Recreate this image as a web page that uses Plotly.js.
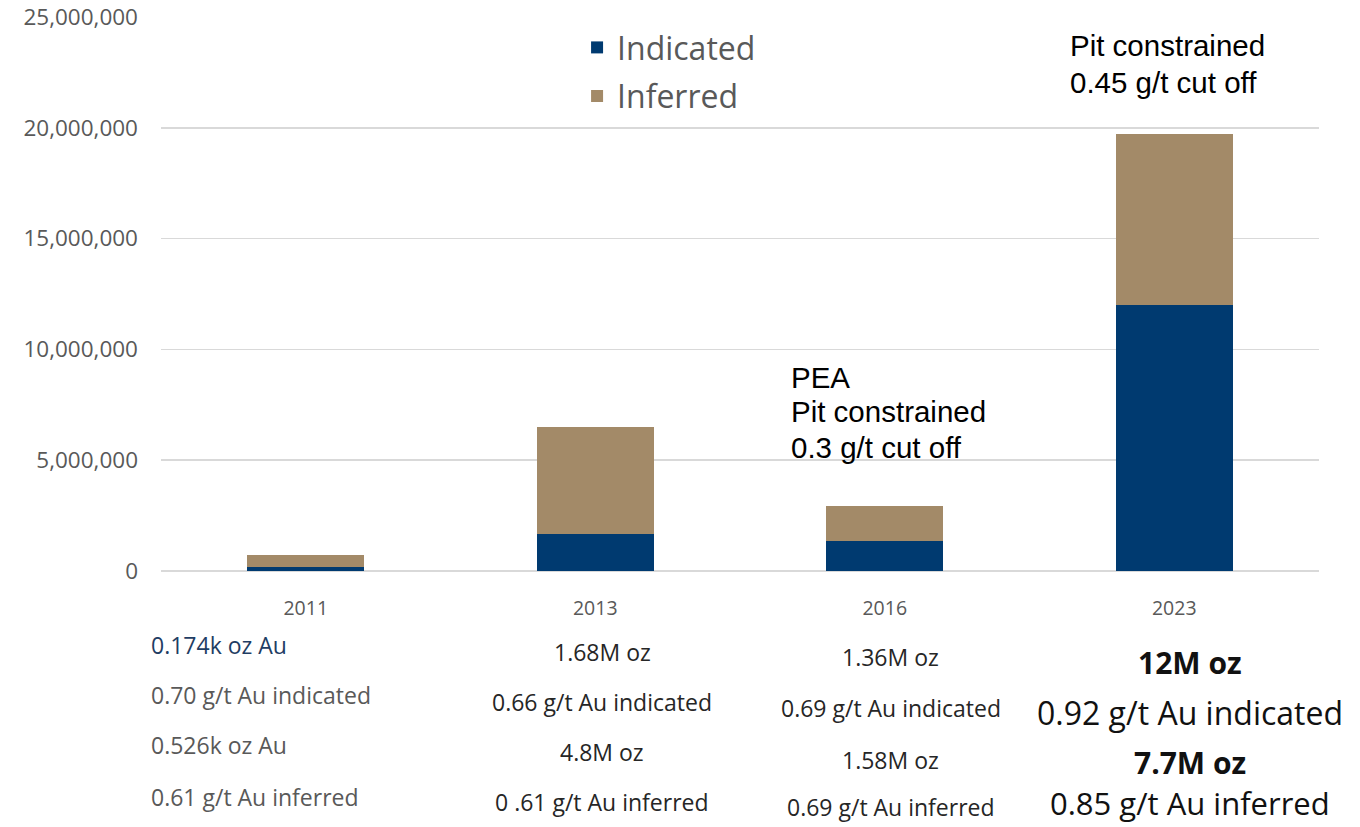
<!DOCTYPE html>
<html>
<head>
<meta charset="utf-8">
<script src="https://cdn.plot.ly/plotly-3.0.1.min.js"></script>
<style>
  html, body { margin: 0; padding: 0; background: #ffffff; }
  #chart { width: 1360px; height: 827px; }
</style>
</head>
<body>
<div id="chart"></div>
<script>
// ---- Data ----
const years = ['2011', '2013', '2016', '2023'];
const indicatedOz = [174000, 1680000, 1360000, 12000000];
const inferredOz = [526000, 4800000, 1580000, 7700000];
const seriesNames = ['Indicated', 'Inferred'];
const yTickValues = [0, 5000000, 10000000, 15000000, 20000000, 25000000];

// Summary text under each year
const summary2011 = ['0.174k oz Au', '0.70 g/t Au indicated', '0.526k oz Au', '0.61 g/t Au inferred'];
const summary2013 = ['1.68M oz', '0.66 g/t Au indicated', '4.8M oz', '0 .61 g/t Au inferred'];
const summary2016 = ['1.36M oz', '0.69 g/t Au indicated', '1.58M oz', '0.69 g/t Au inferred'];
const summary2023 = ['12M oz', '0.92 g/t Au indicated', '7.7M oz', '0.85 g/t Au inferred'];
const note2016 = ['PEA', 'Pit constrained', '0.3 g/t cut off'];
const note2023 = ['Pit constrained', '0.45 g/t cut off'];

// ---- Styling / placement ----
const navy = '#003a70';
const tan = '#a38a68';
const gray = '#595959';
const FONT = 'Open Sans, Noto Sans, sans-serif';
const ARIAL = 'Liberation Sans, Arial, sans-serif';

const traces = [
  {
    type: 'bar', name: seriesNames[0], x: years, y: indicatedOz,
    marker: { color: navy }, legendgroup: 'a'
  },
  {
    type: 'bar', name: seriesNames[1], x: years, y: inferredOz,
    marker: { color: tan }, legendgroup: 'b'
  }
];

// plot-area geometry in pixels (matches margins below)
const PL = 161, PW = 1158, PT = 17, PH = 554;
const px = v => (v - PL) / PW;
const py = v => (PT + PH - v) / PH;

const cols = [
  { lines: summary2011, x: 150, xanchor: 'left', ys: [645, 695, 745, 797],
    sizes: [23, 23, 23, 23], colors: ['#1f3d63', gray, gray, gray], bold: [false, false, false, false] },
  { lines: summary2013, x: 602, xanchor: 'center', ys: [652, 702, 752, 802],
    sizes: [23, 23, 23, 23], colors: ['#262626', '#262626', '#262626', '#262626'], bold: [false, false, false, false] },
  { lines: summary2016, x: 891, xanchor: 'center', ys: [657, 708, 760, 807],
    sizes: [23, 23, 23, 23], colors: ['#262626', '#262626', '#262626', '#262626'], bold: [false, false, false, false] },
  { lines: summary2023, x: 1190, xanchor: 'center', ys: [662, 712, 762, 803],
    sizes: [30, 32, 30, 31], colors: ['#111111', '#111111', '#111111', '#111111'], bold: [true, false, true, false] }
];

const annotations = [];
cols.forEach(c => {
  c.lines.forEach((t, i) => {
    annotations.push({
      xref: 'paper', yref: 'paper', x: px(c.x), y: py(c.ys[i]),
      xanchor: c.xanchor, yanchor: 'middle', showarrow: false, borderpad: 0,
      text: c.bold[i] ? '<b>' + t + '</b>' : t,
      font: { family: FONT, size: c.sizes[i], color: c.colors[i] }
    });
  });
});

const noteBlocks = [
  { lines: note2016, x: 790, ys: [377, 412, 447] },
  { lines: note2023, x: 1069, ys: [45, 82] }
];
noteBlocks.forEach(b => {
  b.lines.forEach((t, i) => {
    annotations.push({
      xref: 'paper', yref: 'paper', x: px(b.x), y: py(b.ys[i]),
      xanchor: 'left', yanchor: 'middle', align: 'left', showarrow: false, borderpad: 0,
      text: t,
      font: { family: ARIAL, size: 29.5, color: '#000000' }
    });
  });
});

const layout = {
  width: 1360, height: 827,
  margin: { l: PL, r: 1360 - PL - PW, t: PT, b: 827 - PT - PH },
  paper_bgcolor: '#ffffff', plot_bgcolor: '#ffffff',
  barmode: 'stack', bargap: 0.597,
  showlegend: true,
  legend: {
    x: 0.3593, y: 0.9944, xanchor: 'left', yanchor: 'top',
    traceorder: 'grouped', tracegroupgap: 4,
    font: { family: FONT, size: 32, color: gray },
    bgcolor: 'rgba(0,0,0,0)'
  },
  xaxis: {
    type: 'category', showgrid: false, showline: false, zeroline: false,
    ticks: '', ticklabelstandoff: 23,
    tickfont: { family: FONT, size: 19.5, color: gray }
  },
  yaxis: {
    range: [0, 25000000], tickvals: yTickValues, tickformat: ',d',
    showgrid: true, gridcolor: '#d9d9d9', gridwidth: 1.5,
    zeroline: true, zerolinecolor: '#d9d9d9', zerolinewidth: 1.5,
    showline: false, ticks: '', ticklabelstandoff: 22,
    tickfont: { family: FONT, size: 22.5, color: gray }
  },
  annotations: annotations,
  hovermode: false
};

Plotly.newPlot('chart', traces, layout, { displayModeBar: false, staticPlot: true });
</script>
</body>
</html>
